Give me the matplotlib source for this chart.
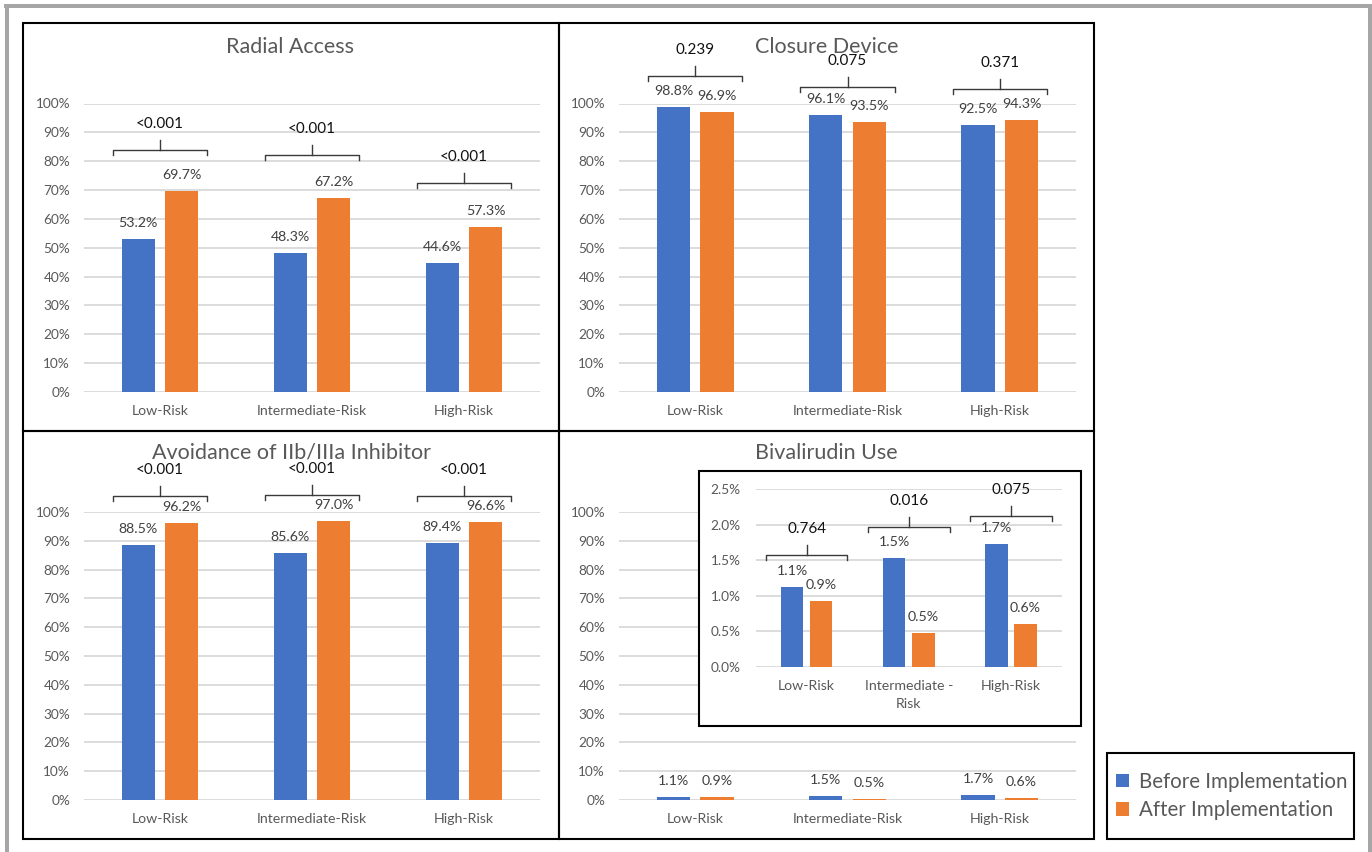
import matplotlib
matplotlib.use('Agg')
import matplotlib.pyplot as plt
from matplotlib.patches import Rectangle
import numpy as np

plt.rcParams['font.family'] = ['Lato', 'DejaVu Sans']

# ---------------- data ----------------
categories = ["Low-Risk", "Intermediate-Risk", "High-Risk"]
inset_categories = ["Low-Risk", "Intermediate -\nRisk", "High-Risk"]
series_names = ["Before Implementation", "After Implementation"]

radial_before = [53.2, 48.3, 44.6]
radial_after = [69.7, 67.2, 57.3]
radial_p = ["<0.001", "<0.001", "<0.001"]

closure_before = [98.8, 96.1, 92.5]
closure_after = [96.9, 93.5, 94.3]
closure_p = ["0.239", "0.075", "0.371"]

avoid_before = [88.5, 85.6, 89.4]
avoid_after = [96.2, 97.0, 96.6]
avoid_p = ["<0.001", "<0.001", "<0.001"]

biv_before = [1.13, 1.53, 1.73]
biv_after = [0.93, 0.48, 0.61]
biv_p = ["0.764", "0.016", "0.075"]

main_yticks = [0, 10, 20, 30, 40, 50, 60, 70, 80, 90, 100]
inset_yticks = [0.0, 0.5, 1.0, 1.5, 2.0, 2.5]

# ---------------- style / layout ----------------
W, H, DPI = 1372, 852, 100
BLUE = '#4472C4'
ORANGE = '#ED7D31'
GRID = '#D9D9D9'
TICKC = '#595959'
VALC = '#404040'
BW = 0.22
OFF = 0.143

fig = plt.figure(figsize=(W / DPI, H / DPI), dpi=DPI)


def fx(x):
    return x / W


def fy(y):
    return 1 - y / H


def px_axes(x0, y0, x1, y1, z=0):
    ax = fig.add_axes([x0 / W, 1 - y1 / H, (x1 - x0) / W, (y1 - y0) / H])
    ax.set_zorder(z)
    return ax


def px_rect(x0, y0, x1, y1, z=1, **kw):
    r = Rectangle((x0 / W, 1 - y1 / H), (x1 - x0) / W, (y1 - y0) / H,
                  transform=fig.transFigure, zorder=z, **kw)
    fig.add_artist(r)
    return r


def bracket(ax, xc, h, half, text, ppu, fs=11):
    drop = 5 / ppu
    tick = 10 / ppu
    txt = 26 / ppu
    ax.plot([xc - half, xc - half, xc + half, xc + half],
            [h - drop, h, h, h - drop], color='#3a3a3a', lw=1.0,
            clip_on=False, solid_joinstyle='round')
    ax.plot([xc, xc], [h, h + tick], color='#3a3a3a', lw=1.0, clip_on=False)
    ax.text(xc, h + txt, text, ha='center', va='center', fontsize=fs,
            color='#111111', clip_on=False)


def draw_panel(ax, before, after, cats, yticks, fmt, ylim, tick_fs=9.8,
               cat_fs=10.2, val_fs=10.2, xpad=9.5, ypad=10):
    x = np.arange(len(cats))
    b1 = ax.bar(x - OFF, before, width=BW, color=BLUE, zorder=2)
    b2 = ax.bar(x + OFF, after, width=BW, color=ORANGE, zorder=2)
    ax.set_xlim(-0.5, len(cats) - 0.5)
    ax.set_ylim(*ylim)
    ax.set_yticks(yticks)
    ax.set_yticklabels([fmt(t) for t in yticks])
    ax.set_xticks(x)
    ax.set_xticklabels(cats)
    ax.yaxis.grid(True, color=GRID, lw=1.3)
    ax.set_axisbelow(True)
    for s in ax.spines.values():
        s.set_visible(False)
    ax.tick_params(axis='y', length=0, pad=ypad, labelsize=tick_fs, labelcolor=TICKC)
    ax.tick_params(axis='x', length=0, pad=xpad, labelsize=cat_fs, labelcolor=TICKC)
    for xi, v in zip(x, before):
        ax.annotate(f"{v:.1f}%", (xi - OFF, v), xytext=(0, 11.5),
                    textcoords='offset points', ha='center', va='center',
                    fontsize=val_fs, color=VALC)
    for xi, v in zip(x, after):
        ax.annotate(f"{v:.1f}%", (xi + OFF, v), xytext=(0, 11.5),
                    textcoords='offset points', ha='center', va='center',
                    fontsize=val_fs, color=VALC)
    return b1, b2


pct0 = lambda t: f"{t:.0f}%"
pct1 = lambda t: f"{t:.1f}%"
MAIN_PPU = 288 / 100.0
INSET_PPU = 178 / 2.5
TITLE_FS = 15.5

# outer gray frame
px_rect(4, 4, 1372, 8, facecolor='#A6A6A6', edgecolor='none')
px_rect(5, 4, 9, 852, facecolor='#A6A6A6', edgecolor='none')
px_rect(1368, 4, 1372, 852, facecolor='#A6A6A6', edgecolor='none')

# panel borders
for (x0, y0, x1, y1) in [(23, 23, 559, 431), (559, 23, 1094, 431),
                         (23, 431, 559, 839), (559, 431, 1094, 839)]:
    px_rect(x0, y0, x1, y1, facecolor='none', edgecolor='black', lw=1.5)

# Panel 1: Radial Access
ax1 = px_axes(84, 103.5, 540, 392)
h1 = draw_panel(ax1, radial_before, radial_after, categories, main_yticks, pct0, (0, 100))
for i, (p, h) in enumerate(zip(radial_p, [83.8, 82.2, 72.4])):
    bracket(ax1, i, h, 0.31, p, MAIN_PPU)
fig.text(fx(290.5), fy(47), "Radial Access", ha='center', va='center',
         fontsize=TITLE_FS, color=TICKC)

# Panel 2: Closure Device
ax2 = px_axes(619, 103.5, 1076, 392)
draw_panel(ax2, closure_before, closure_after, categories, main_yticks, pct0, (0, 100))
for i, (p, h) in enumerate(zip(closure_p, [109.4, 105.6, 104.9])):
    bracket(ax2, i, h, 0.31, p, MAIN_PPU)
fig.text(fx(826.5), fy(47), "Closure Device", ha='center', va='center',
         fontsize=TITLE_FS, color=TICKC)

# Panel 3: Avoidance of IIb/IIIa Inhibitor
ax3 = px_axes(84, 512, 540, 800)
draw_panel(ax3, avoid_before, avoid_after, categories, main_yticks, pct0, (0, 100))
for i, (p, h) in enumerate(zip(avoid_p, [105.6, 105.8, 105.6])):
    bracket(ax3, i, h, 0.31, p, MAIN_PPU)
fig.text(fx(291.5), fy(453), "Avoidance of IIb/IIIa Inhibitor", ha='center', va='center',
         fontsize=TITLE_FS, color=TICKC)

# Panel 4: Bivalirudin Use
ax4 = px_axes(619, 512, 1076, 800)
draw_panel(ax4, biv_before, biv_after, categories, main_yticks, pct0, (0, 100))
fig.text(fx(826.5), fy(453), "Bivalirudin Use", ha='center', va='center',
         fontsize=TITLE_FS, color=TICKC)

# inset
px_rect(699, 471, 1081, 726, z=2, facecolor='white', edgecolor='black', lw=1.5)
ax5 = px_axes(755.5, 489, 1062, 667, z=3)
ax5.patch.set_alpha(0)
draw_panel(ax5, biv_before, biv_after, inset_categories, inset_yticks, pct1, (0, 2.5),
           ypad=10.5)
for lbl in ax5.get_xticklabels():
    lbl.set_linespacing(1.6)
for i, (p, h) in enumerate(zip(biv_p, [1.573, 1.962, 2.125])):
    bracket(ax5, i, h, 0.40, p, INSET_PPU)

# legend
px_rect(1107, 753, 1354, 839, facecolor='white', edgecolor='black', lw=1.5)
leg = fig.legend([h1[0], h1[1]], series_names, loc='center left',
                 bbox_to_anchor=(fx(1116), fy(796)), frameon=False, fontsize=14.8,
                 handlelength=0.65, handleheight=0.65, handletextpad=0.45,
                 labelspacing=0.42, borderpad=0, borderaxespad=0)
for t in leg.get_texts():
    t.set_color(TICKC)

fig.savefig('out.png', dpi=DPI)
